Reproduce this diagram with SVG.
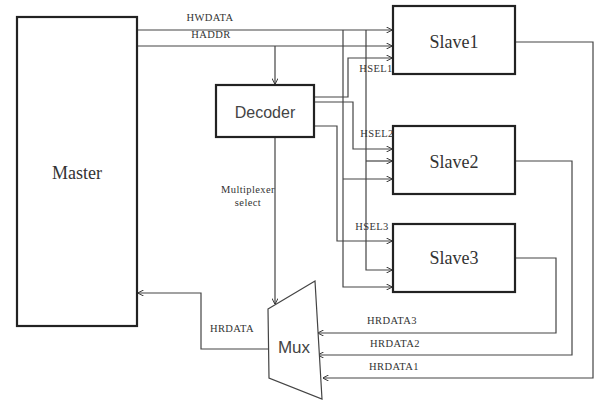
<svg xmlns="http://www.w3.org/2000/svg" width="597" height="400" viewBox="0 0 597 400">
<defs>
<marker id="ah" viewBox="0 0 8 8" refX="7.5" refY="4" markerWidth="6" markerHeight="6" markerUnits="userSpaceOnUse" orient="auto">
<path d="M0,0 L8,4 L0,8" fill="none" stroke="#333" stroke-width="1.3"/>
</marker>
<style>
.box{fill:#fff;stroke:#222;stroke-width:2.2}
.w{fill:none;stroke:#444;stroke-width:1.2}
.serif{font-family:"Liberation Serif","Times New Roman",serif;fill:#333}
.sans{font-family:"Liberation Sans",Arial,sans-serif;fill:#444}
.lbl{font-family:"Liberation Serif","Times New Roman",serif;font-size:10.5px;letter-spacing:0.4px;fill:#333}
</style>
</defs>
<rect width="597" height="400" fill="#fff"/>
<g id="connectors">
<path class="w" d="M137,30 H392" marker-end="url(#ah)"/>
<path class="w" d="M137,46 H392" marker-end="url(#ah)"/>
<path class="w" d="M275,46 V84" marker-end="url(#ah)"/>
<path class="w" d="M343,30 V287 H392" marker-end="url(#ah)"/>
<path class="w" d="M366,30 V270 H392" marker-end="url(#ah)"/>
<path class="w" d="M343,179 H392" marker-end="url(#ah)"/>
<path class="w" d="M366,161 H392" marker-end="url(#ah)"/>
<path class="w" d="M315,97 H348 V58 H392" marker-end="url(#ah)"/>
<path class="w" d="M315,102 H353 V149 H392" marker-end="url(#ah)"/>
<path class="w" d="M315,126 H337 V241 H392" marker-end="url(#ah)"/>
<path class="w" d="M275,138 V304" marker-end="url(#ah)"/>
<path class="w" d="M516,42 H593 V378 H323" marker-end="url(#ah)"/>
<path class="w" d="M516,161 H572 V355 H318" marker-end="url(#ah)"/>
<path class="w" d="M516,258 H556 V333 H318" marker-end="url(#ah)"/>
<path class="w" d="M268,349 H201 V293 H138" marker-end="url(#ah)"/>
</g>
<g id="master">
<rect class="box" x="17" y="17" width="120" height="309"/>
<text class="serif" x="77" y="179" font-size="18" text-anchor="middle">Master</text>
</g>
<g id="decoder">
<rect class="box" x="216" y="85" width="98" height="52"/>
<text class="sans" x="265" y="118" font-size="16" text-anchor="middle">Decoder</text>
</g>
<g id="slave1">
<rect class="box" x="393" y="6" width="122" height="68"/>
<text class="serif" x="454" y="48" font-size="18" text-anchor="middle">Slave1</text>
</g>
<g id="slave2">
<rect class="box" x="393" y="126" width="122" height="68"/>
<text class="serif" x="454" y="168" font-size="18" text-anchor="middle">Slave2</text>
</g>
<g id="slave3">
<rect class="box" x="393" y="224" width="122" height="68"/>
<text class="serif" x="454" y="264" font-size="18" text-anchor="middle">Slave3</text>
</g>
<g id="mux">
<polygon points="268,309 315,281 322,399 269,378" fill="#fff" stroke="#444" stroke-width="1.2"/>
<text class="sans" x="294" y="353" font-size="17" text-anchor="middle">Mux</text>
</g>
<g id="labels">
<text class="lbl" x="210" y="21" text-anchor="middle">HWDATA</text>
<text class="lbl" x="211" y="38" text-anchor="middle">HADDR</text>
<text class="lbl" x="376" y="72" text-anchor="middle">HSEL1</text>
<text class="lbl" x="377" y="137" text-anchor="middle">HSEL2</text>
<text class="lbl" x="372" y="230" text-anchor="middle">HSEL3</text>
<text class="lbl" x="248" y="193" text-anchor="middle">Multiplexer</text>
<text class="lbl" x="248" y="206" text-anchor="middle">select</text>
<text class="lbl" x="232" y="332" text-anchor="middle">HRDATA</text>
<text class="lbl" x="392" y="324" text-anchor="middle">HRDATA3</text>
<text class="lbl" x="395" y="347" text-anchor="middle">HRDATA2</text>
<text class="lbl" x="394" y="370" text-anchor="middle">HRDATA1</text>
</g>
</svg>
